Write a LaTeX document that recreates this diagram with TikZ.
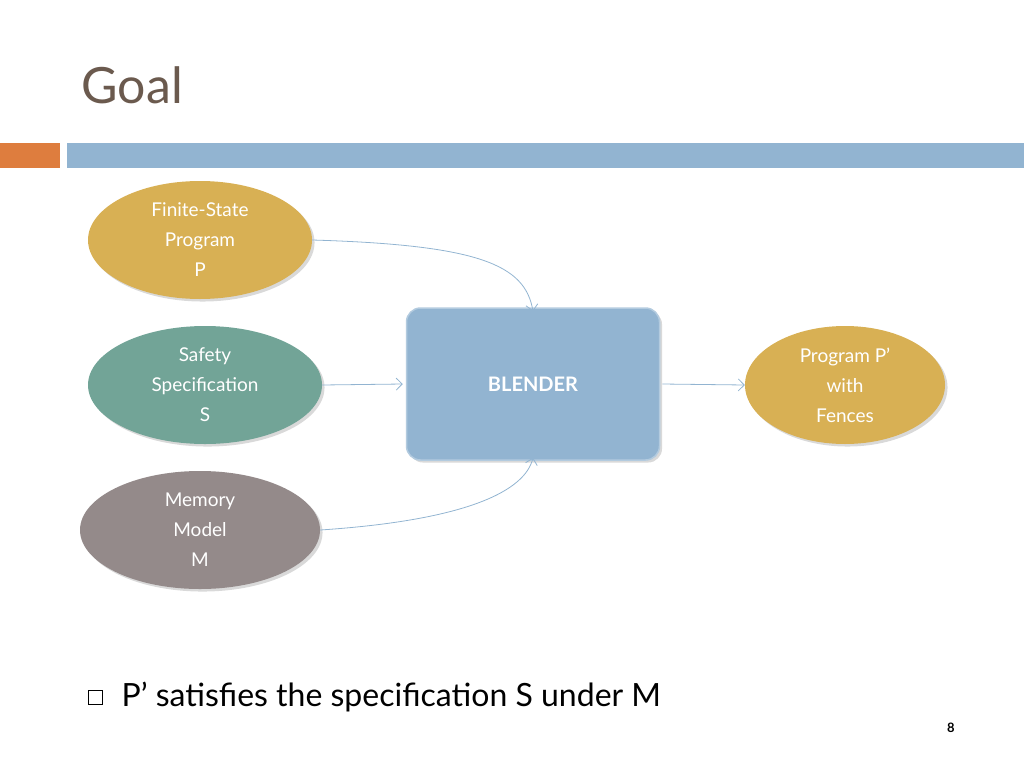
\documentclass[tikz,border=0pt]{standalone}
\usepackage{fontspec}
\setmainfont{Lato}
\usetikzlibrary{shadows}
\definecolor{gold}{HTML}{D8B054}
\definecolor{teal}{HTML}{72A497}
\definecolor{grayb}{HTML}{948A8A}
\definecolor{blu}{HTML}{92B4D1}
\definecolor{org}{HTML}{DE7D3E}
\definecolor{ttl}{HTML}{6B5A4E}
\tikzset{
 ell/.style={ellipse,minimum width=#1,minimum height=118pt,text=white,align=center,font=\fontsize{19}{30}\selectfont,drop shadow={opacity=0.3}},
 conn/.style={draw=blu,thick,-{Straight Barb[length=6pt]}},
}
\usetikzlibrary{shapes.geometric,arrows.meta}
\begin{document}
\begin{tikzpicture}[x=1pt,y=-1pt]
\useasboundingbox (0,0) rectangle (1024,768);
\node[anchor=west,text=ttl,font=\fontsize{50}{50}\selectfont] (title) at (78,85) {Goal};
\fill[org] (0,143) rectangle (60,168);
\fill[blu] (67,143) rectangle (1024,168);
\node[ell=224pt,fill=gold] (p) at (200,240) {Finite-State\\Program\\P};
\node[ell=234pt,fill=teal] (s) at (205,385) {Safety\\Specification\\S};
\node[ell=240pt,fill=grayb] (m) at (200,530) {Memory\\Model\\M};
\node[draw=blu!70!white,line width=1.5pt,fill=blu,rounded corners=14pt,minimum width=253pt,minimum height=152pt,text=white,font=\fontsize{20}{20}\selectfont\bfseries,drop shadow={opacity=0.3}] (b) at (533,384) {BLENDER};
\node[ell=200pt,fill=gold] (o) at (845,385) {Program P’\\with\\Fences};
\draw[conn] (p.east) .. controls (480,245) and (525,265) .. ([yshift=-4pt]b.north);
\draw[conn] (s.east) -- ([xshift=-3pt]b.west);
\draw[conn] (m.east) .. controls (470,520) and (525,490) .. ([yshift=3pt]b.south);
\draw[conn] ([xshift=2pt]b.east) -- (o.west);
\draw[thin] (88,690) rectangle (102,704);
\node[anchor=west,font=\fontsize{32}{32}\selectfont] (t) at (118,697) {P’ satisfies the specification S under M};
\node[font=\fontsize{13}{13}\selectfont\bfseries] (n) at (951,728) {8};
\end{tikzpicture}
\end{document}
